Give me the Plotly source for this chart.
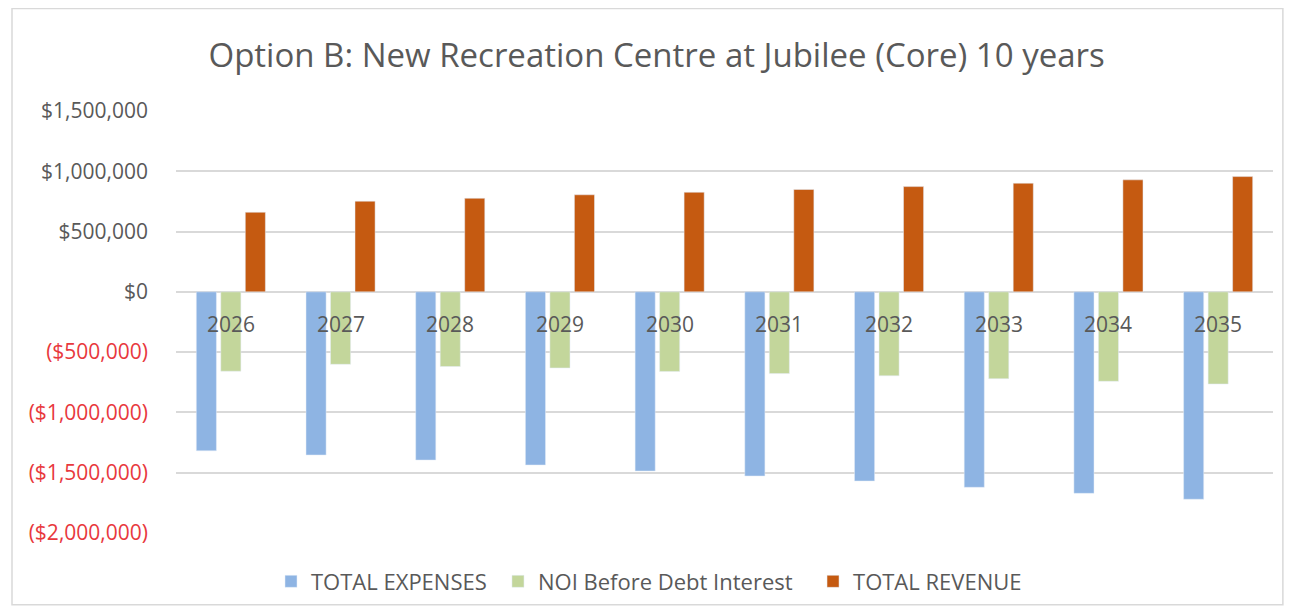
import plotly.graph_objects as go

years = ["2026", "2027", "2028", "2029", "2030", "2031", "2032", "2033", "2034", "2035"]
total_expenses = [-1318000, -1353000, -1395000, -1436000, -1486000, -1527000, -1569000, -1621000, -1671000, -1720000]
noi_before_debt = [-658000, -601000, -619000, -631000, -660000, -678000, -696000, -720000, -742000, -764000]
total_revenue = [660000, 752000, 776000, 805000, 826000, 849000, 873000, 901000, 929000, 956000]

y_ticks = [1500000, 1000000, 500000, 0, -500000, -1000000, -1500000, -2000000]

def fmt(v):
    if v < 0:
        return "<span style='color:#E8383D'>(${:,})</span>".format(-v)
    return "${:,}".format(v)

tick_text = [fmt(v) for v in y_ticks]

FONT = "Open Sans"
LEG_FONT = dict(family=FONT, size=22, color="#595959")

fig = go.Figure()
fig.add_trace(go.Bar(name="TOTAL EXPENSES", x=years, y=total_expenses, marker_color="#8EB4E3", legend="legend"))
fig.add_trace(go.Bar(name="NOI Before Debt Interest", x=years, y=noi_before_debt, marker_color="#C3D69B", legend="legend2"))
fig.add_trace(go.Bar(name="TOTAL REVENUE", x=years, y=total_revenue, marker_color="#C55A11", legend="legend3"))

# category labels drawn on the zero line (category index positions)
for i, yr in enumerate(years):
    fig.add_annotation(x=i, y=0, xref="x", yref="y", text=yr, showarrow=False,
                       yanchor="middle", yshift=-32,
                       font=dict(family=FONT, size=21, color="#595959"))

fig.add_shape(type="rect", xref="paper", yref="paper", x0=-0.1495, x1=1.009, y0=-0.170, y1=1.243,
              line=dict(color="#D9D9D9", width=1.5), layer="below")

fig.update_layout(
    width=1287, height=606,
    margin=dict(l=168, r=22, t=103, b=81),
    paper_bgcolor="white", plot_bgcolor="white",
    barmode="group", bargap=0.33, bargroupgap=0.18,
    title=dict(text="Option B: New Recreation Centre at Jubilee (Core) 10 years",
               x=0.504, xref="container", xanchor="center",
               y=0.922, yref="container", yanchor="middle",
               font=dict(family=FONT, size=33, color="#595959")),
    xaxis=dict(type="category", showticklabels=False, showgrid=False, showline=False, ticks=""),
    yaxis=dict(range=[-2000000, 1500000], tickvals=y_ticks, ticktext=tick_text,
               showgrid=True, gridcolor="#D9D9D9", gridwidth=1.5,
               zeroline=True, zerolinecolor="#D9D9D9", zerolinewidth=1.5,
               showline=False, ticks="", ticklabelstandoff=27,
               tickfont=dict(family=FONT, size=21, color="#595959")),
    legend=dict(orientation="h", x=0.0866, xanchor="left", y=-0.115, yanchor="middle", font=LEG_FONT),
    legend2=dict(orientation="h", x=0.2935, xanchor="left", y=-0.115, yanchor="middle", font=LEG_FONT),
    legend3=dict(orientation="h", x=0.5807, xanchor="left", y=-0.115, yanchor="middle", font=LEG_FONT),
    showlegend=True,
)

fig.write_html("out.html")
